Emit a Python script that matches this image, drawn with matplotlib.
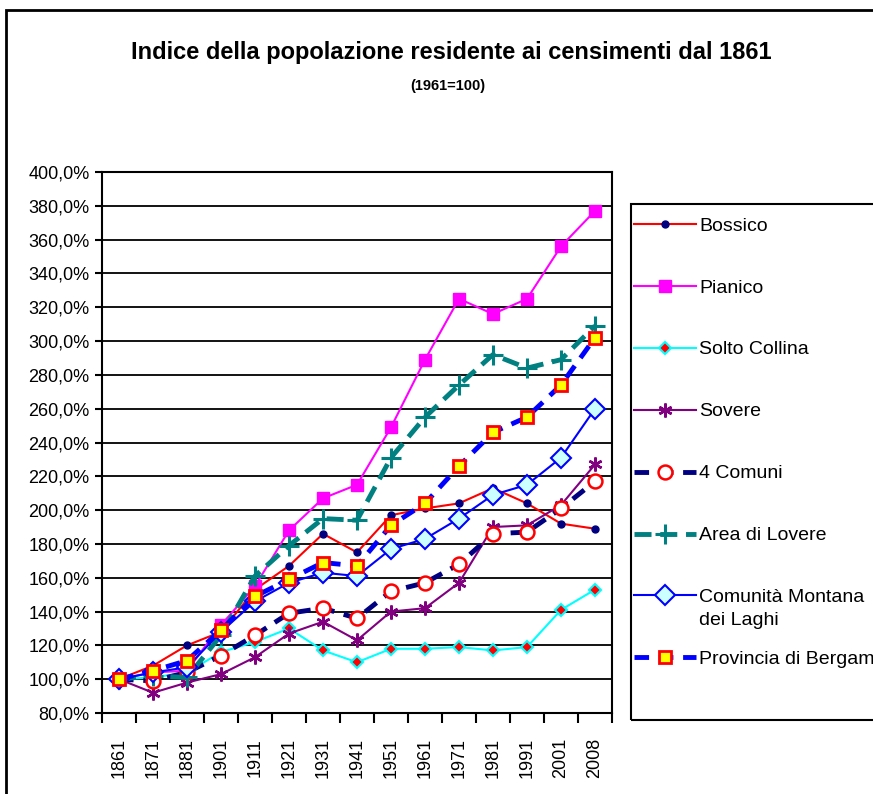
import matplotlib
matplotlib.use('Agg')
import matplotlib.pyplot as plt
from matplotlib.patches import Rectangle
from matplotlib.ticker import FixedLocator, FuncFormatter

years = ['1861', '1871', '1881', '1901', '1911', '1921', '1931', '1941',
         '1951', '1961', '1971', '1981', '1991', '2001', '2008']

bossico = [100, 108, 120, 128, 153, 167, 186, 175, 197, 201, 204, 213, 204, 192, 189]
pianico = [100, 104, 105, 132, 155, 188, 207, 215, 249, 289, 325, 316, 325, 356, 377]
solto_collina = [100, 101, 104, 116, 122, 130, 117, 110, 118, 118, 119, 117, 119, 141, 153]
sovere = [100, 92, 98, 103, 113, 127, 134, 123, 140, 142, 157, 190, 191, 203, 227]
quattro_comuni = [100, 99, 104, 114, 126, 139, 142, 136, 152, 157, 168, 186, 187, 201, 217]
area_lovere = [100, 102, 101, 126, 161, 179, 195, 194, 231, 255, 274, 292, 284, 289, 309]
comunita_montana = [100, 104, 107, 128, 146, 157, 163, 161, 177, 183, 195, 209, 215, 231, 260]
provincia_bergamo = [100, 105, 111, 129, 149, 159, 169, 167, 191, 204, 226, 246, 255, 274, 302]

labels = ['Bossico', 'Pianico', 'Solto Collina', 'Sovere', '4 Comuni',
          'Area di Lovere', 'Comunità Montana', 'Provincia di Bergamo']
label_extra = 'dei Laghi'   # second line of the Comunità Montana entry

plt.rcParams['font.family'] = ['Liberation Sans', 'DejaVu Sans']

W, H = 873, 794
fig = plt.figure(figsize=(W / 100, H / 100), dpi=100)
ax = fig.add_axes([102 / W, 1 - 713 / H, 510 / W, 541 / H])

x = list(range(len(years)))

styles = [
    (bossico, dict(color='red', lw=1.5, marker='o', ms=5, mfc='#000080', mec='#000080')),
    (pianico, dict(color='#FF00FF', lw=1.5, marker='s', ms=8, mfc='#FF00FF', mec='#FF00FF')),
    (solto_collina, dict(color='#00FFFF', lw=1.5, marker='D', ms=6, mfc='red', mec='#00FFFF', mew=1.5)),
    (sovere, dict(color='#800080', lw=1.5, marker=(6, 2, 0), ms=10, mec='#800080', mew=1.8)),
    (quattro_comuni, dict(color='#000080', lw=3.5, dashes=(3, 2), marker='o', ms=10,
                          mfc='white', mec='red', mew=1.8)),
    (area_lovere, dict(color='#008080', lw=3.5, dashes=(3.5, 1.8), marker='+', ms=15,
                       mec='#008080', mew=2.2)),
    (comunita_montana, dict(color='#0000FF', lw=1.5, marker='D', ms=10, mfc='#CCFFFF',
                            mec='#0000FF', mew=1.5)),
    (provincia_bergamo, dict(color='#0000FF', lw=3.5, dashes=(3, 2), marker='s', ms=8,
                             mfc='yellow', mec='red', mew=2)),
]

handles = []
for (vals, kw), lab in zip(styles, labels):
    ln, = ax.plot(x, vals, label=lab, **kw)
    handles.append(ln)

ax.set_xlim(-0.5, len(years) - 0.5)
ax.set_ylim(80, 400)
ax.yaxis.set_major_locator(FixedLocator(range(80, 401, 20)))
ax.yaxis.set_major_formatter(FuncFormatter(lambda v, p: f'{v:.1f}%'.replace('.', ',')))
ax.grid(axis='y', color='black', lw=1.3)
ax.set_axisbelow(True)

ax.set_xticks(x)
ax.set_xticklabels(years, rotation=90)
ax.set_xticks([i - 0.5 for i in range(len(years) + 1)], minor=True)
ax.tick_params(axis='x', which='major', length=0, pad=18, labelsize=13)
ax.tick_params(axis='x', which='minor', length=7, width=1.5, direction='out')
ax.tick_params(axis='y', length=5, width=1.5, direction='out', labelsize=13, pad=4)
for s in ax.spines.values():
    s.set_linewidth(1.5)
    s.set_color('black')

fig.text(0.517, 1 - 52 / H, 'Indice della popolazione residente ai censimenti dal 1861',
         ha='center', va='center', fontsize=17, fontweight='bold')
fig.text(0.513, 1 - 86 / H, '(1961=100)', ha='center', va='center',
         fontsize=10.5, fontweight='bold')

# legend frame and chart border
fig.patches.append(Rectangle((631 / W, 1 - 720 / H), 300 / W, 516 / H, transform=fig.transFigure,
                             fill=False, ec='black', lw=1.5))
fig.patches.append(Rectangle((6 / W, -0.05), 1.1, 1.05 - 10 / H, transform=fig.transFigure,
                             fill=False, ec='black', lw=2))

leg = fig.legend(handles=handles, loc='upper left', bbox_to_anchor=(634 / W, 1 - 217 / H),
                 frameon=False, fontsize=14, handlelength=3.2, handletextpad=0.15,
                 labelspacing=2.28, borderpad=0, borderaxespad=0)

# second line of the two-line entry, placed right under its legend text
fig.canvas.draw()
bb = leg.get_texts()[6].get_window_extent().transformed(fig.transFigure.inverted())
fig.text(bb.x0, bb.y0 - 6 / H, label_extra, ha='left', va='top', fontsize=14)

fig.savefig('out.png', dpi=100)
